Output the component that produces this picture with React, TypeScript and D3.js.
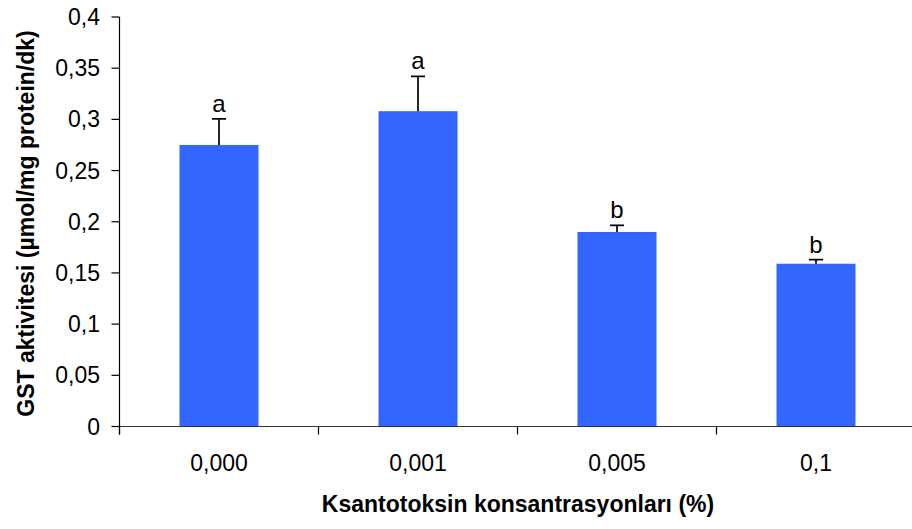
import React from "react";
import * as d3 from "d3";

const categories = ["0,000", "0,001", "0,005", "0,1"];
const means = [0.275, 0.308, 0.19, 0.159];
const errors = [0.0255, 0.034, 0.0065, 0.004];
const letters = ["a", "a", "b", "b"];
const yTicks = [0, 0.05, 0.1, 0.15, 0.2, 0.25, 0.3, 0.35, 0.4];
const yTickLabels = ["0", "0,05", "0,1", "0,15", "0,2", "0,25", "0,3", "0,35", "0,4"];

const W = 912;
const H = 529;
const FONT = "Liberation Sans, Arial, sans-serif";

export default function App() {
  const x0 = 119.5;
  const bandW = 199;
  const x = d3
    .scaleBand<string>()
    .domain(categories)
    .range([x0, x0 + bandW * categories.length])
    .paddingInner(0)
    .paddingOuter(0);
  const y = d3.scaleLinear().domain([0, 0.4]).range([426.5, 17]);
  const barW = 79;

  return (
    <svg
      width={W}
      height={H}
      style={{ position: "absolute", left: 0, top: 0, background: "#fff" }}
    >
      {categories.map((c, i) => {
        const cx = (x(c) as number) + x.bandwidth() / 2;
        return (
          <g key={c}>
            <rect
              x={cx - barW / 2}
              y={y(means[i])}
              width={barW}
              height={y(0) - y(means[i])}
              fill="#3366FF"
            />
            <line
              x1={cx}
              x2={cx}
              y1={y(means[i])}
              y2={y(means[i] + errors[i])}
              stroke="#000"
              strokeWidth={1.7}
            />
            <line
              x1={cx - 7}
              x2={cx + 7}
              y1={y(means[i] + errors[i])}
              y2={y(means[i] + errors[i])}
              stroke="#000"
              strokeWidth={1.7}
            />
            <text
              x={cx}
              y={y(means[i] + errors[i]) - 7}
              textAnchor="middle"
              fontFamily={FONT}
              fontSize={24}
              fill="#000"
            >
              {letters[i]}
            </text>
            <text
              x={cx}
              y={471}
              textAnchor="middle"
              fontFamily={FONT}
              fontSize={23}
              fill="#000"
            >
              {c}
            </text>
          </g>
        );
      })}
      <line x1={x0} x2={W} y1={y(0)} y2={y(0)} stroke="#333" strokeWidth={1.2} />
      {categories.map((c, i) => (
        <line
          key={"xt" + i}
          x1={x(c) as number}
          x2={x(c) as number}
          y1={y(0)}
          y2={y(0) + 8}
          stroke="#000"
          strokeWidth={1.2}
        />
      ))}
      <line x1={x0} x2={x0} y1={y(0.4)} y2={y(0) + 8} stroke="#000" strokeWidth={1.2} />
      {yTicks.map((t, i) => (
        <g key={"yt" + i}>
          <line x1={x0 - 8} x2={x0} y1={y(t)} y2={y(t)} stroke="#000" strokeWidth={1.2} />
          <text
            x={100}
            y={y(t)}
            dy="0.35em"
            textAnchor="end"
            fontFamily={FONT}
            fontSize={23}
            fill="#000"
          >
            {yTickLabels[i]}
          </text>
        </g>
      ))}
      <text
        x={518}
        y={512}
        textAnchor="middle"
        fontFamily={FONT}
        fontSize={23}
        fontWeight="bold"
        fill="#000"
      >
        Ksantotoksin konsantrasyonları (%)
      </text>
      <text
        transform={`translate(33.5, 223.5) rotate(-90)`}
        textAnchor="middle"
        fontFamily={FONT}
        fontSize={23}
        fontWeight="bold"
        fill="#000"
      >
        GST aktivitesi (µmol/mg protein/dk)
      </text>
    </svg>
  );
}
